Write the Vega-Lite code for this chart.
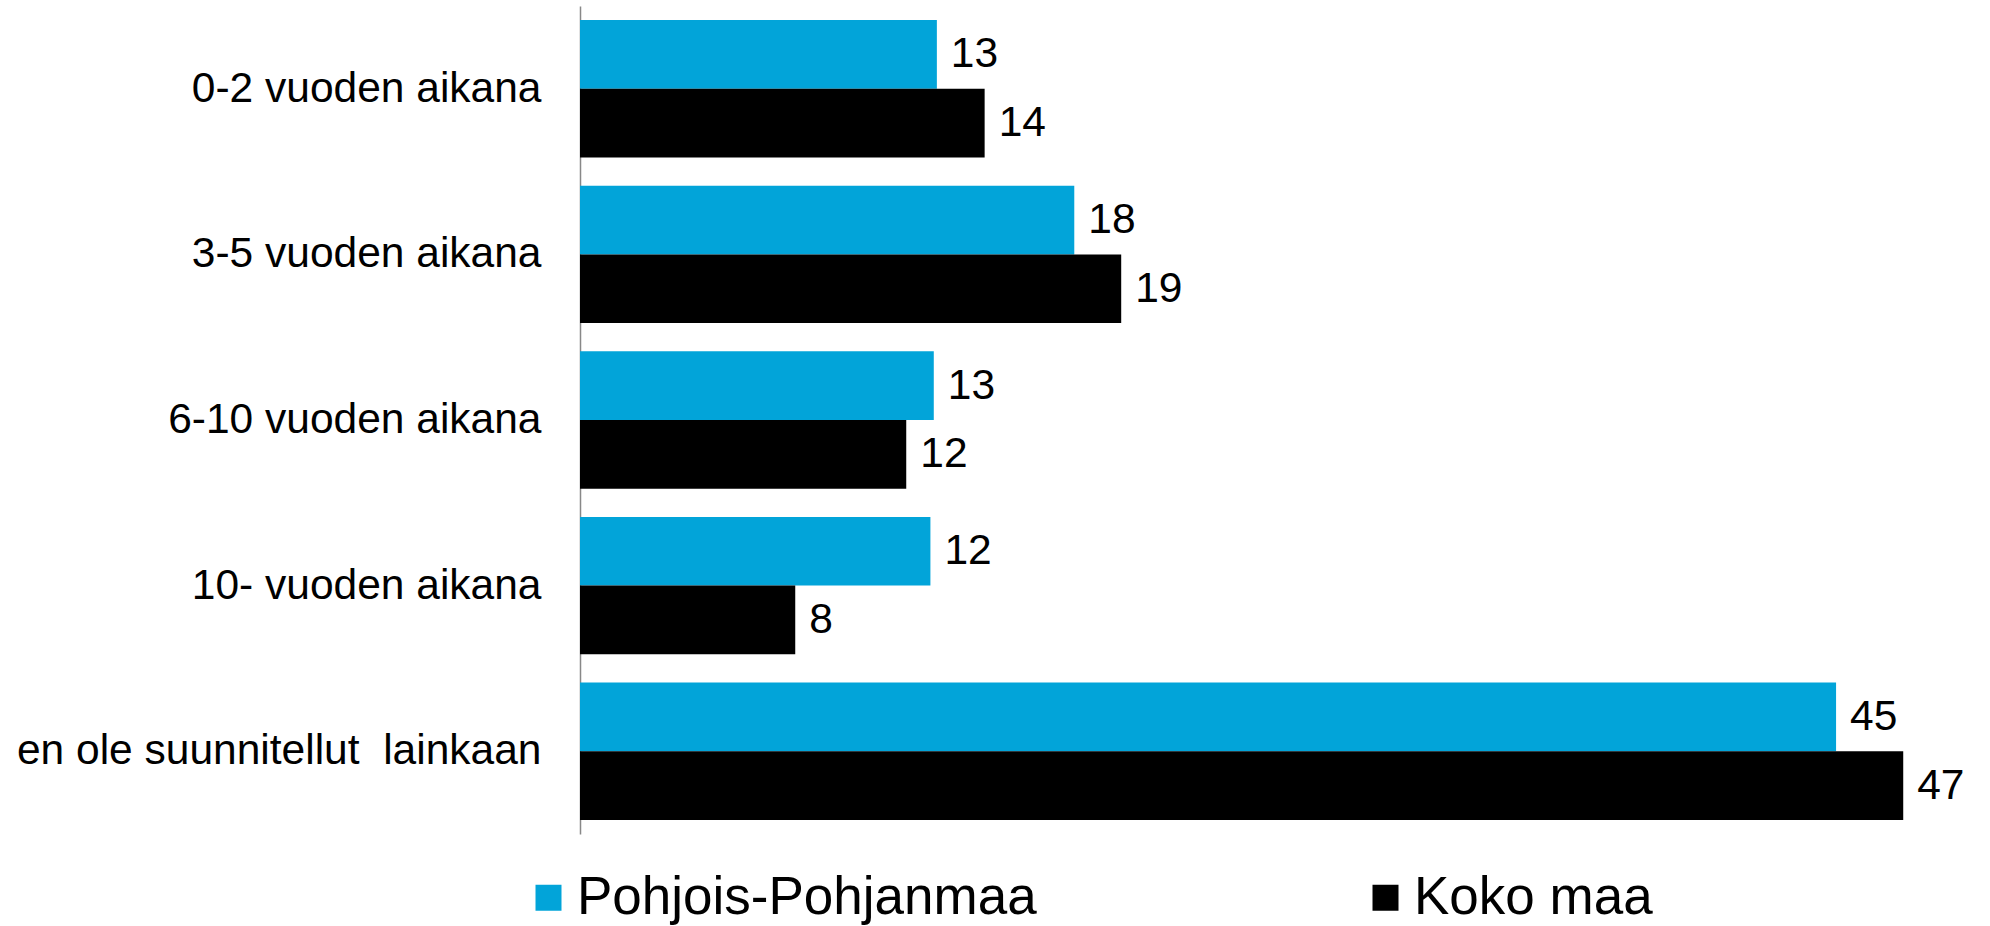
{
  "$schema": "https://vega.github.io/schema/vega-lite/v6.json",
  "width": 1405,
  "height": 828,
  "autosize": {"type": "none"},
  "padding": {"left": 580, "top": 6, "right": 5, "bottom": 92},
  "background": "white",
  "config": {
    "view": {"stroke": null},
    "font": "Liberation Sans"
  },
  "data": {
    "values": [
      {"kategoria": "0-2 vuoden aikana", "alue": "Pohjois-Pohjanmaa", "arvo": 12.70},
      {"kategoria": "0-2 vuoden aikana", "alue": "Koko maa", "arvo": 14.40},
      {"kategoria": "3-5 vuoden aikana", "alue": "Pohjois-Pohjanmaa", "arvo": 17.59},
      {"kategoria": "3-5 vuoden aikana", "alue": "Koko maa", "arvo": 19.26},
      {"kategoria": "6-10 vuoden aikana", "alue": "Pohjois-Pohjanmaa", "arvo": 12.59},
      {"kategoria": "6-10 vuoden aikana", "alue": "Koko maa", "arvo": 11.61},
      {"kategoria": "10- vuoden aikana", "alue": "Pohjois-Pohjanmaa", "arvo": 12.47},
      {"kategoria": "10- vuoden aikana", "alue": "Koko maa", "arvo": 7.66},
      {"kategoria": "en ole suunnitellut\u00a0 lainkaan", "alue": "Pohjois-Pohjanmaa", "arvo": 44.70},
      {"kategoria": "en ole suunnitellut\u00a0 lainkaan", "alue": "Koko maa", "arvo": 47.09}
    ]
  },
  "encoding": {
    "y": {
      "field": "kategoria",
      "type": "nominal",
      "sort": ["0-2 vuoden aikana", "3-5 vuoden aikana", "6-10 vuoden aikana", "10- vuoden aikana", "en ole suunnitellut\u00a0 lainkaan"],
      "title": null,
      "scale": {"paddingInner": 0.17, "paddingOuter": 0.085},
      "axis": {
        "domain": true,
        "domainColor": "#888888",
        "domainWidth": 1.5,
        "ticks": false,
        "tickSize": 0,
        "grid": false,
        "labelFontSize": 42.5,
        "labelColor": "#000000",
        "labelPadding": 39,
        "labelLimit": 700
      }
    },
    "yOffset": {
      "field": "alue",
      "type": "nominal",
      "sort": ["Pohjois-Pohjanmaa", "Koko maa"],
      "scale": {"paddingInner": 0, "paddingOuter": 0}
    },
    "x": {
      "field": "arvo",
      "type": "quantitative",
      "scale": {"domain": [0, 50], "nice": false},
      "axis": null
    }
  },
  "layer": [
    {
      "mark": {"type": "bar"},
      "encoding": {
        "color": {
          "field": "alue",
          "type": "nominal",
          "scale": {"domain": ["Pohjois-Pohjanmaa", "Koko maa"], "range": ["#02A4D9", "#000000"]},
          "legend": {
            "title": null,
            "orient": "none",
            "legendX": -58,
            "legendY": 865,
            "direction": "horizontal",
            "symbolType": "square",
            "symbolSize": 676,
            "symbolStrokeWidth": 0,
            "labelFontSize": 53,
            "labelColor": "#000000",
            "labelOffset": 2,
            "labelLimit": 800,
            "columnPadding": 322,
            "padding": 0
          }
        }
      }
    },
    {
      "mark": {"type": "text", "align": "left", "baseline": "middle", "dx": 14, "fontSize": 42.5, "color": "#000000"},
      "encoding": {
        "text": {"field": "arvo", "type": "quantitative", "format": ".0f"}
      }
    }
  ]
}
